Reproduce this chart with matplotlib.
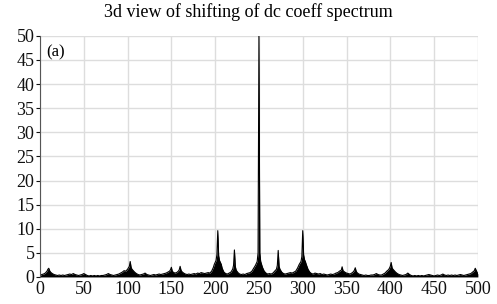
import matplotlib
matplotlib.use('Agg')
import matplotlib.pyplot as plt

# spectrum (frequency index, magnitude)
freq = [0, 2, 4, 6, 8, 9, 10, 11, 12, 14, 16, 18, 20, 22, 24, 26, 28, 30, 32, 34,
        36, 38, 40, 42, 44, 46, 48, 50, 52, 54, 56, 58, 60, 62, 64, 66, 68, 70, 72, 74,
        76, 78, 80, 82, 84, 86, 88, 90, 92, 94, 96, 98, 100, 101, 102, 103, 104, 105, 106, 108,
        110, 112, 114, 116, 118, 120, 122, 124, 126, 128, 130, 132, 134, 136, 138, 140, 142, 144, 146, 148,
        149, 150, 151, 152, 154, 156, 158, 159, 160, 161, 162, 164, 166, 168, 170, 172, 174, 176, 178, 180,
        182, 184, 186, 188, 190, 192, 194, 196, 198, 199, 200, 201, 202, 203, 204, 205, 206, 207, 208, 210,
        212, 214, 216, 218, 220, 221, 222, 223, 224, 226, 228, 230, 232, 234, 236, 238, 240, 242, 244, 246,
        247, 248, 249, 250, 251, 252, 253, 254, 256, 258, 260, 262, 264, 266, 268, 270, 271, 272, 273, 274,
        276, 278, 280, 282, 284, 286, 288, 290, 292, 294, 296, 298, 299, 300, 301, 302, 303, 304, 306, 308,
        310, 312, 314, 316, 318, 320, 322, 324, 326, 328, 330, 332, 334, 336, 338, 340, 342, 344, 345, 346,
        348, 350, 352, 354, 356, 358, 359, 360, 361, 362, 364, 366, 368, 370, 372, 374, 376, 378, 380, 382,
        384, 386, 388, 390, 392, 394, 396, 398, 399, 400, 401, 402, 403, 404, 406, 408, 410, 412, 414, 416,
        418, 420, 422, 424, 426, 428, 430, 432, 434, 436, 438, 440, 442, 444, 446, 448, 450, 452, 454, 456,
        458, 460, 462, 464, 466, 468, 470, 472, 474, 476, 478, 480, 482, 484, 486, 488, 490, 492, 494, 496,
        497, 498, 499, 500]
mag = [0.3, 0.5, 0.6, 0.8, 1.2, 1.6, 1.8, 1.3, 1.0, 0.7, 0.5, 0.4, 0.3, 0.4, 0.3, 0.4, 0.3, 0.4, 0.5, 0.6,
       0.5, 0.7, 0.5, 0.4, 0.3, 0.4, 0.5, 0.7, 0.5, 0.3, 0.2, 0.3, 0.2, 0.3, 0.2, 0.3, 0.2, 0.3, 0.3, 0.4,
       0.5, 0.7, 0.5, 0.4, 0.3, 0.4, 0.5, 0.6, 0.8, 1.0, 1.3, 1.2, 1.6, 1.9, 2.2, 3.2, 2.0, 1.6, 1.4, 1.0,
       0.7, 0.5, 0.4, 0.5, 0.6, 0.8, 0.5, 0.4, 0.3, 0.4, 0.5, 0.4, 0.5, 0.6, 0.5, 0.6, 0.7, 0.8, 1.0, 1.2,
       1.5, 2.0, 1.2, 1.0, 0.8, 0.9, 1.2, 1.5, 2.2, 1.4, 1.1, 0.8, 0.6, 0.5, 0.6, 0.5, 0.6, 0.7, 0.6, 0.8,
       0.7, 0.9, 0.8, 0.7, 0.8, 0.9, 0.8, 1.2, 2.0, 2.6, 3.0, 3.4, 4.6, 9.6, 4.4, 3.4, 3.0, 2.6, 1.8, 1.0,
       0.7, 0.6, 0.8, 1.0, 1.6, 2.4, 5.6, 2.2, 1.4, 0.9, 0.6, 0.5, 0.6, 0.5, 0.7, 0.8, 0.9, 1.2, 1.8, 2.4,
       2.8, 3.2, 5.0, 50.0, 5.0, 3.2, 2.6, 2.0, 1.2, 0.8, 0.6, 0.7, 0.6, 0.8, 1.2, 1.6, 2.4, 5.5, 2.2, 1.6,
       1.0, 0.7, 0.6, 0.7, 0.8, 0.9, 0.8, 1.0, 1.2, 1.8, 2.6, 3.2, 4.2, 9.6, 4.6, 3.6, 3.2, 2.6, 1.6, 1.0,
       0.7, 0.6, 0.8, 0.7, 0.6, 0.7, 0.5, 0.6, 0.5, 0.4, 0.5, 0.6, 0.5, 0.6, 0.8, 0.9, 1.2, 1.4, 2.1, 1.3,
       1.0, 0.8, 0.7, 0.6, 0.8, 1.1, 1.4, 1.9, 1.2, 0.9, 0.6, 0.5, 0.4, 0.3, 0.4, 0.3, 0.3, 0.4, 0.4, 0.5,
       0.7, 0.5, 0.4, 0.4, 0.6, 0.8, 1.2, 1.5, 1.8, 2.2, 3.0, 1.9, 1.6, 1.4, 1.0, 0.7, 0.5, 0.4, 0.3, 0.4,
       0.5, 0.8, 0.5, 0.3, 0.2, 0.3, 0.2, 0.3, 0.2, 0.3, 0.2, 0.3, 0.4, 0.5, 0.4, 0.3, 0.2, 0.3, 0.4, 0.3,
       0.4, 0.6, 0.4, 0.3, 0.4, 0.3, 0.4, 0.3, 0.4, 0.3, 0.4, 0.5, 0.4, 0.3, 0.4, 0.5, 0.6, 0.7, 1.0, 1.3,
       1.8, 1.4, 1.0, 0.6]

xticks = [0, 50, 100, 150, 200, 250, 300, 350, 400, 450, 500]
yticks = [0, 5, 10, 15, 20, 25, 30, 35, 40, 45, 50]

plt.rcParams['font.family'] = ['Liberation Serif', 'DejaVu Serif']

fig = plt.figure(figsize=(4.97, 3.04), dpi=100)
ax = fig.add_axes([0.0805, 0.089, 0.881, 0.793])

ax.fill_between(freq, 0, mag, color='black', linewidth=0)
ax.plot(freq, mag, color='black', linewidth=0.8)
ax.axhline(0, color='black', linewidth=1.5)

ax.set_xlim(0, 500)
ax.set_ylim(0, 50)
ax.set_xticks(xticks)
ax.set_yticks(yticks)
ax.tick_params(axis='both', labelsize=13, colors='#111111')
ax.tick_params(axis='x', length=0, pad=3)
ax.tick_params(axis='y', length=3, pad=1)
ax.grid(True, color='#dddddd', linewidth=1.0)
ax.set_axisbelow(True)
for side in ['top', 'right', 'bottom']:
    ax.spines[side].set_visible(False)
ax.spines['left'].set_color('#555555')

ax.text(7, 46.5, '(a)', fontsize=12, va='center', ha='left')
# title sits centred on the whole figure, not the axes
fig.text(0.5, 0.96, '3d view of shifting of dc coeff spectrum', fontsize=13,
         ha='center', va='center')

fig.savefig('out.png', dpi=100)
